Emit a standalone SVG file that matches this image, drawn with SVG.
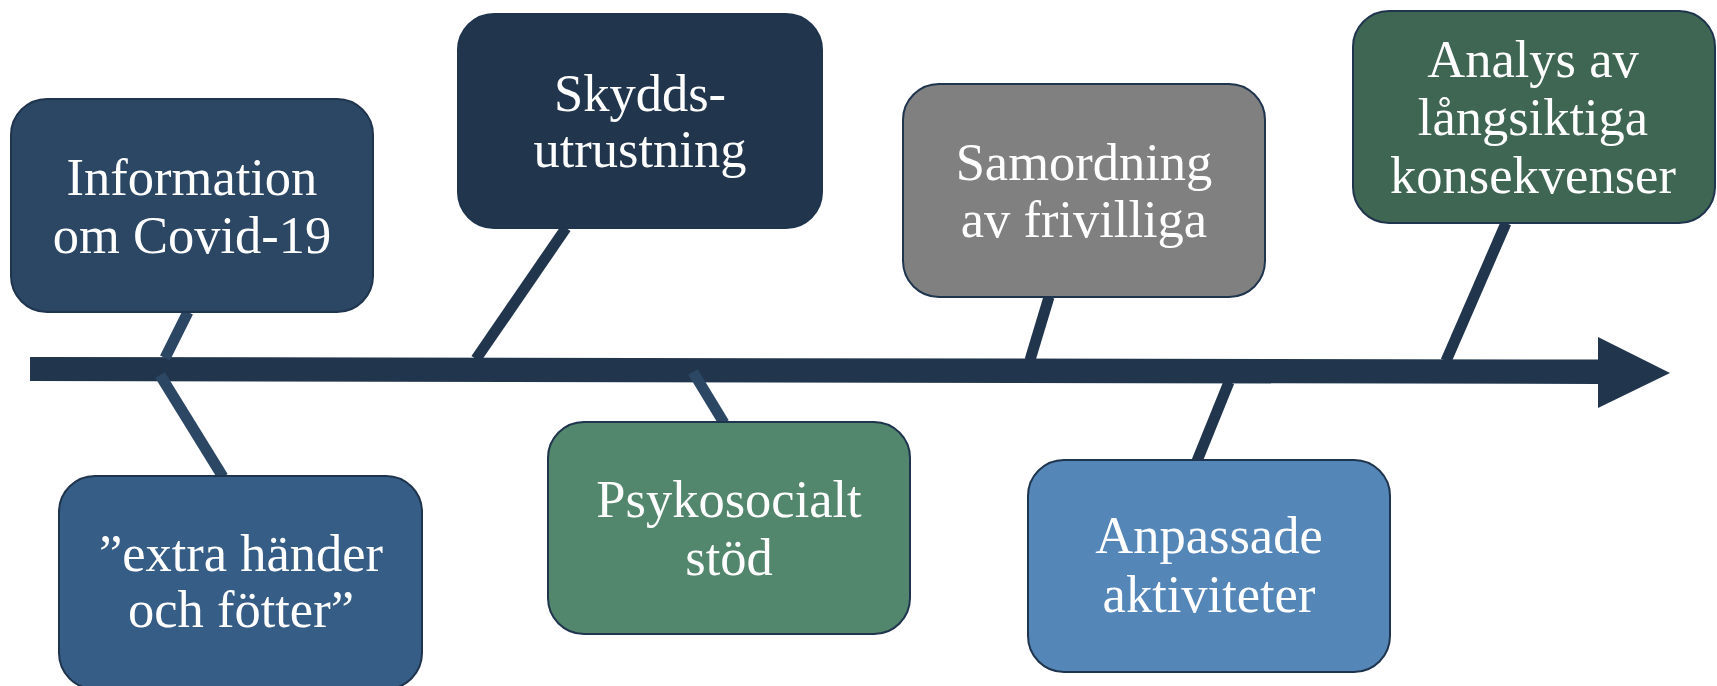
<svg xmlns="http://www.w3.org/2000/svg" width="1717" height="686" viewBox="0 0 1717 686">
<style>
.box{stroke:#1f344d;stroke-width:2}
.t{font-family:"Liberation Serif","Times New Roman",serif;font-size:52.5px;fill:#ffffff;text-anchor:middle}
.cl{stroke:#2b4764;stroke-width:11;fill:none}
.cd{stroke:#21364d;stroke-width:11;fill:none}
</style>
<rect width="1717" height="686" fill="#ffffff"/>
<g id="axis">
<path d="M30,357 L1598,359.5 L1598,337 L1670,373 L1598,408 L1598,384 L30,381 Z" fill="#21364d"/>
</g>
<g id="connectors">
<line class="cl" x1="188" y1="312" x2="165" y2="358"/>
<line class="cd" x1="566" y1="228" x2="476" y2="359"/>
<line class="cd" x1="1049" y1="297" x2="1030" y2="360"/>
<line class="cd" x1="1506" y1="223" x2="1446" y2="361"/>
<line class="cl" x1="160" y1="375" x2="223" y2="477"/>
<line class="cl" x1="693" y1="372" x2="724" y2="423"/>
<line class="cd" x1="1229" y1="382" x2="1197" y2="461"/>
</g>
<g id="information">
<rect class="box" x="11" y="99" width="362" height="213" rx="36" fill="#2b4764"/>
<text class="t" x="192" y="195">Information</text>
<text class="t" x="192" y="253">om Covid-19</text>
</g>
<g id="skydds">
<rect class="box" x="458" y="14" width="364" height="214" rx="36" fill="#21364d"/>
<text class="t" x="640" y="111">Skydds-</text>
<text class="t" x="640" y="167">utrustning</text>
</g>
<g id="samordning">
<rect class="box" x="903" y="84" width="362" height="213" rx="36" fill="#808080"/>
<text class="t" x="1084" y="180">Samordning</text>
<text class="t" x="1084" y="237">av frivilliga</text>
</g>
<g id="analys">
<rect class="box" x="1353" y="11" width="362" height="212" rx="36" fill="#3e6653"/>
<text class="t" x="1533" y="77">Analys av</text>
<text class="t" x="1533" y="135">långsiktiga</text>
<text class="t" x="1533" y="193">konsekvenser</text>
</g>
<g id="extra">
<rect class="box" x="59" y="476" width="363" height="213" rx="36" fill="#365d85"/>
<text class="t" x="241" y="571">”extra händer</text>
<text class="t" x="241" y="627">och fötter”</text>
</g>
<g id="psykosocialt">
<rect class="box" x="548" y="422" width="362" height="212" rx="36" fill="#52866d"/>
<text class="t" x="729" y="517">Psykosocialt</text>
<text class="t" x="729" y="575">stöd</text>
</g>
<g id="anpassade">
<rect class="box" x="1028" y="460" width="362" height="212" rx="36" fill="#5486b8"/>
<text class="t" x="1209" y="553">Anpassade</text>
<text class="t" x="1209" y="612">aktiviteter</text>
</g>
</svg>
